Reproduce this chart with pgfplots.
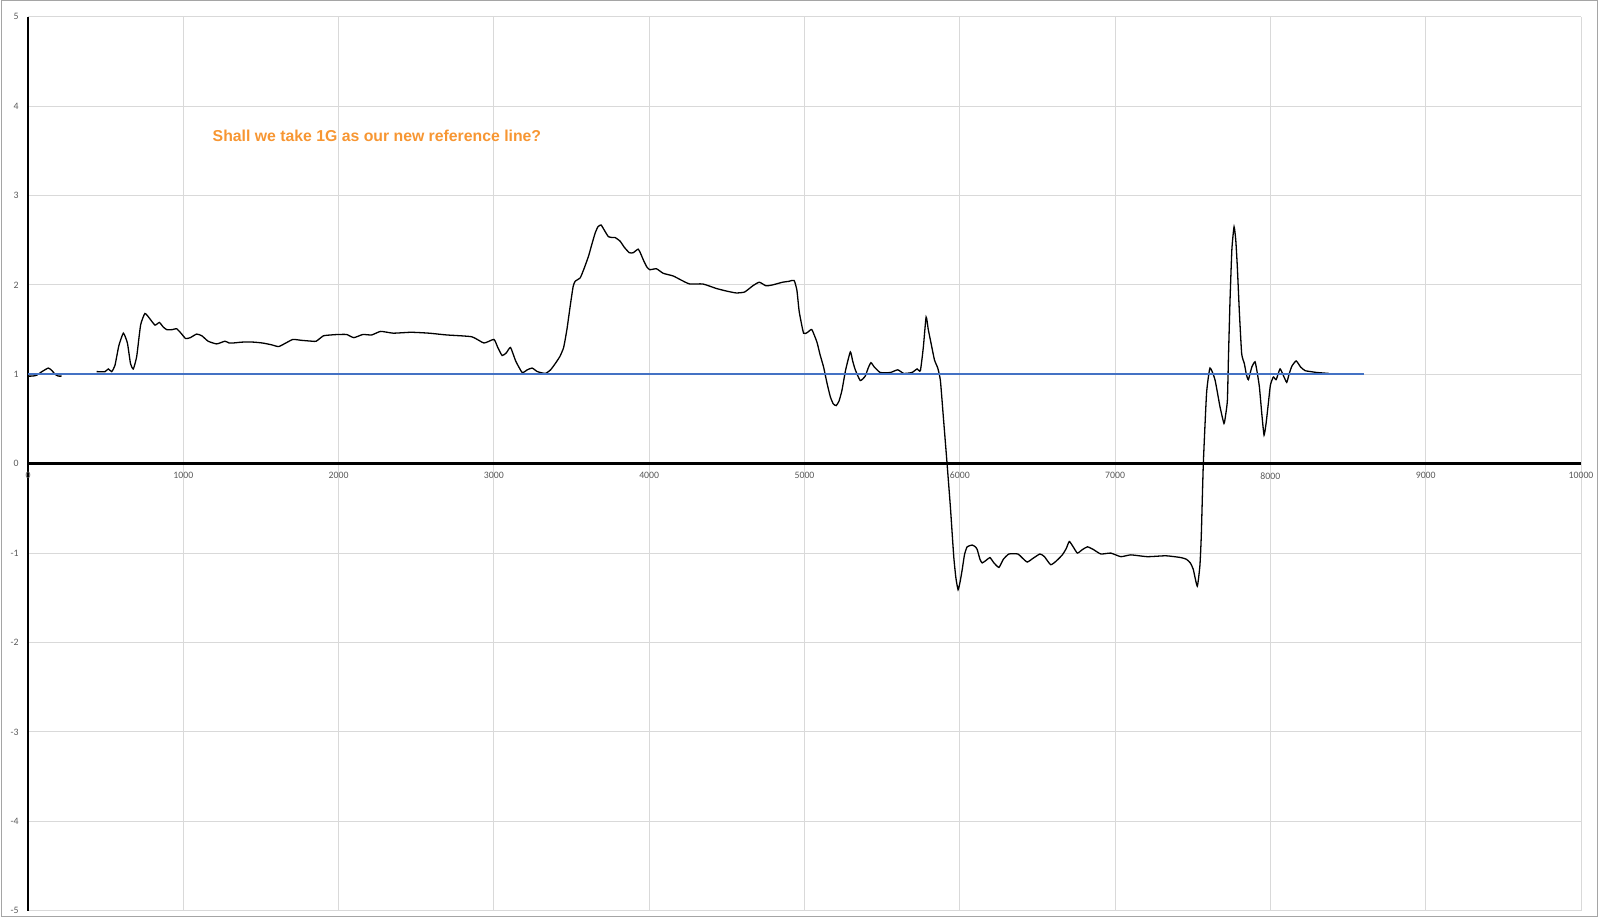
\documentclass[border=0pt]{standalone}
\usepackage{pgfplots}
\pgfplotsset{compat=1.18}
\usepackage{pgfplotstable}
\usepackage{fontspec}
\setmainfont{Carlito}
\newfontfamily\titlefont{Liberation Sans}
\definecolor{gridgray}{RGB}{217,217,217}
\definecolor{ticktext}{RGB}{89,89,89}
\definecolor{exblue}{RGB}{68,114,196}
\definecolor{exorange}{RGB}{247,150,50}
\definecolor{framegray}{RGB}{165,165,165}
\pgfplotstableread{
x y
0 0.98
30 0.98
56 0.99
90 1.03
131 1.07
155 1.04
174 1.00
195 0.98
217 0.98
300 nan
442 1.03
496 1.03
517 1.06
539 1.03
560 1.10
585 1.32
614 1.46
640 1.35
660 1.12
678 1.06
700 1.20
725 1.55
753 1.68
785 1.62
818 1.55
846 1.58
870 1.53
893 1.50
930 1.50
957 1.51
985 1.46
1015 1.40
1045 1.41
1086 1.45
1120 1.43
1160 1.37
1215 1.34
1268 1.37
1295 1.35
1320 1.35
1380 1.36
1451 1.36
1510 1.35
1568 1.33
1614 1.31
1660 1.35
1706 1.39
1760 1.38
1830 1.37
1856 1.37
1902 1.43
1950 1.44
1994 1.445
2052 1.445
2098 1.41
2156 1.445
2213 1.44
2271 1.48
2352 1.46
2467 1.47
2582 1.46
2696 1.44
2857 1.42
2936 1.35
3000 1.39
3025 1.30
3053 1.21
3080 1.24
3107 1.30
3140 1.15
3182 1.02
3215 1.05
3246 1.07
3280 1.03
3331 1.01
3365 1.05
3395 1.12
3425 1.20
3449 1.30
3470 1.50
3491 1.76
3510 1.98
3523 2.04
3556 2.08
3580 2.18
3609 2.32
3630 2.45
3652 2.58
3670 2.65
3690 2.67
3715 2.60
3737 2.54
3760 2.53
3780 2.53
3812 2.49
3840 2.42
3872 2.36
3897 2.36
3929 2.40
3945 2.35
3962 2.28
3985 2.20
4004 2.17
4047 2.18
4090 2.13
4154 2.10
4210 2.05
4261 2.01
4346 2.01
4432 1.96
4500 1.93
4560 1.91
4614 1.92
4667 1.99
4709 2.03
4752 1.99
4795 2.00
4859 2.03
4900 2.04
4933 2.05
4951 1.94
4966 1.70
4994 1.46
5020 1.47
5047 1.50
5080 1.36
5100 1.22
5123 1.08
5145 0.90
5166 0.75
5185 0.67
5204 0.65
5222 0.70
5241 0.82
5265 1.05
5295 1.25
5310 1.15
5327 1.05
5359 0.93
5391 0.98
5410 1.07
5428 1.13
5450 1.08
5488 1.02
5553 1.02
5600 1.05
5639 1.01
5692 1.02
5725 1.06
5746 1.04
5765 1.30
5783 1.64
5797 1.50
5811 1.38
5837 1.16
5858 1.07
5875 0.93
5895 0.50
5918 0.00
5940 -0.50
5961 -1.04
5975 -1.28
5989 -1.41
6002 -1.32
6015 -1.19
6030 -1.02
6047 -0.93
6080 -0.91
6100 -0.93
6112 -0.96
6130 -1.07
6144 -1.11
6170 -1.08
6194 -1.05
6220 -1.11
6252 -1.16
6280 -1.07
6316 -1.01
6374 -1.01
6400 -1.05
6434 -1.10
6470 -1.06
6516 -1.01
6545 -1.04
6585 -1.13
6620 -1.09
6660 -1.02
6685 -0.95
6705 -0.87
6730 -0.93
6757 -1.00
6790 -0.96
6822 -0.93
6860 -0.96
6908 -1.01
6972 -1.00
7037 -1.04
7101 -1.02
7209 -1.04
7327 -1.03
7424 -1.05
7460 -1.07
7484 -1.11
7503 -1.18
7529 -1.37
7546 -1.14
7555 -0.80
7568 0.00
7589 0.79
7611 1.07
7643 0.94
7675 0.64
7701 0.45
7712 0.55
7723 0.71
7730 1.20
7740 1.83
7752 2.40
7766 2.65
7777 2.50
7787 2.20
7800 1.70
7815 1.23
7832 1.12
7845 1.00
7858 0.94
7880 1.08
7901 1.14
7915 1.02
7929 0.86
7945 0.55
7959 0.32
7972 0.45
7987 0.68
8000 0.88
8019 0.97
8037 0.94
8062 1.06
8085 0.98
8105 0.91
8120 1.00
8138 1.09
8166 1.15
8195 1.08
8224 1.04
8260 1.03
8299 1.02
8374 1.01
}\curve
\begin{document}
\begin{tikzpicture}
\useasboundingbox (0,0) rectangle (800pt,459pt);
\draw[framegray, line width=0.5pt] (0.75pt,0.65pt) rectangle (798.5pt,458.5pt);
\begin{axis}[
  at={(14pt,3.65pt)}, anchor=south west,
  scale only axis, width=776.5pt, height=447pt,
  xmin=0, xmax=10000, ymin=-5, ymax=5,
  axis x line=middle, axis y line=left,
  axis line style={-, black, line width=1.2pt},
  hide obscured x ticks=false, hide obscured y ticks=false,
  xtick={0,1000,...,10000}, ytick={-5,-4,...,5},
  scaled x ticks=false, scaled y ticks=false,
  major tick length=0pt,
  grid=major, major grid style={gridgray, line width=0.5pt},
  /pgf/number format/1000 sep={},
  /pgf/number format/assume math mode=true,
  tick label style={font=\fontsize{4.9}{5.5}\selectfont, text=ticktext},
  xticklabel style={anchor=center, inner sep=0pt, yshift=-6pt},
  yticklabel style={anchor=east, inner sep=0pt, xshift=-4.5pt},
  unbounded coords=jump,
]
\addplot[black, line width=0.65pt, smooth, tension=0.3] table[x=x,y=y]{\curve};
\addplot[exblue, line width=1.1pt] coordinates {(0,1) (8600,1)};
\node[anchor=base west, inner sep=0pt, text=exorange, font=\titlefont\bfseries\fontsize{7.9}{9}\selectfont] at (axis cs:1187,3.60) {Shall we take 1G as our new reference line?};
\end{axis}
\end{tikzpicture}
\end{document}
